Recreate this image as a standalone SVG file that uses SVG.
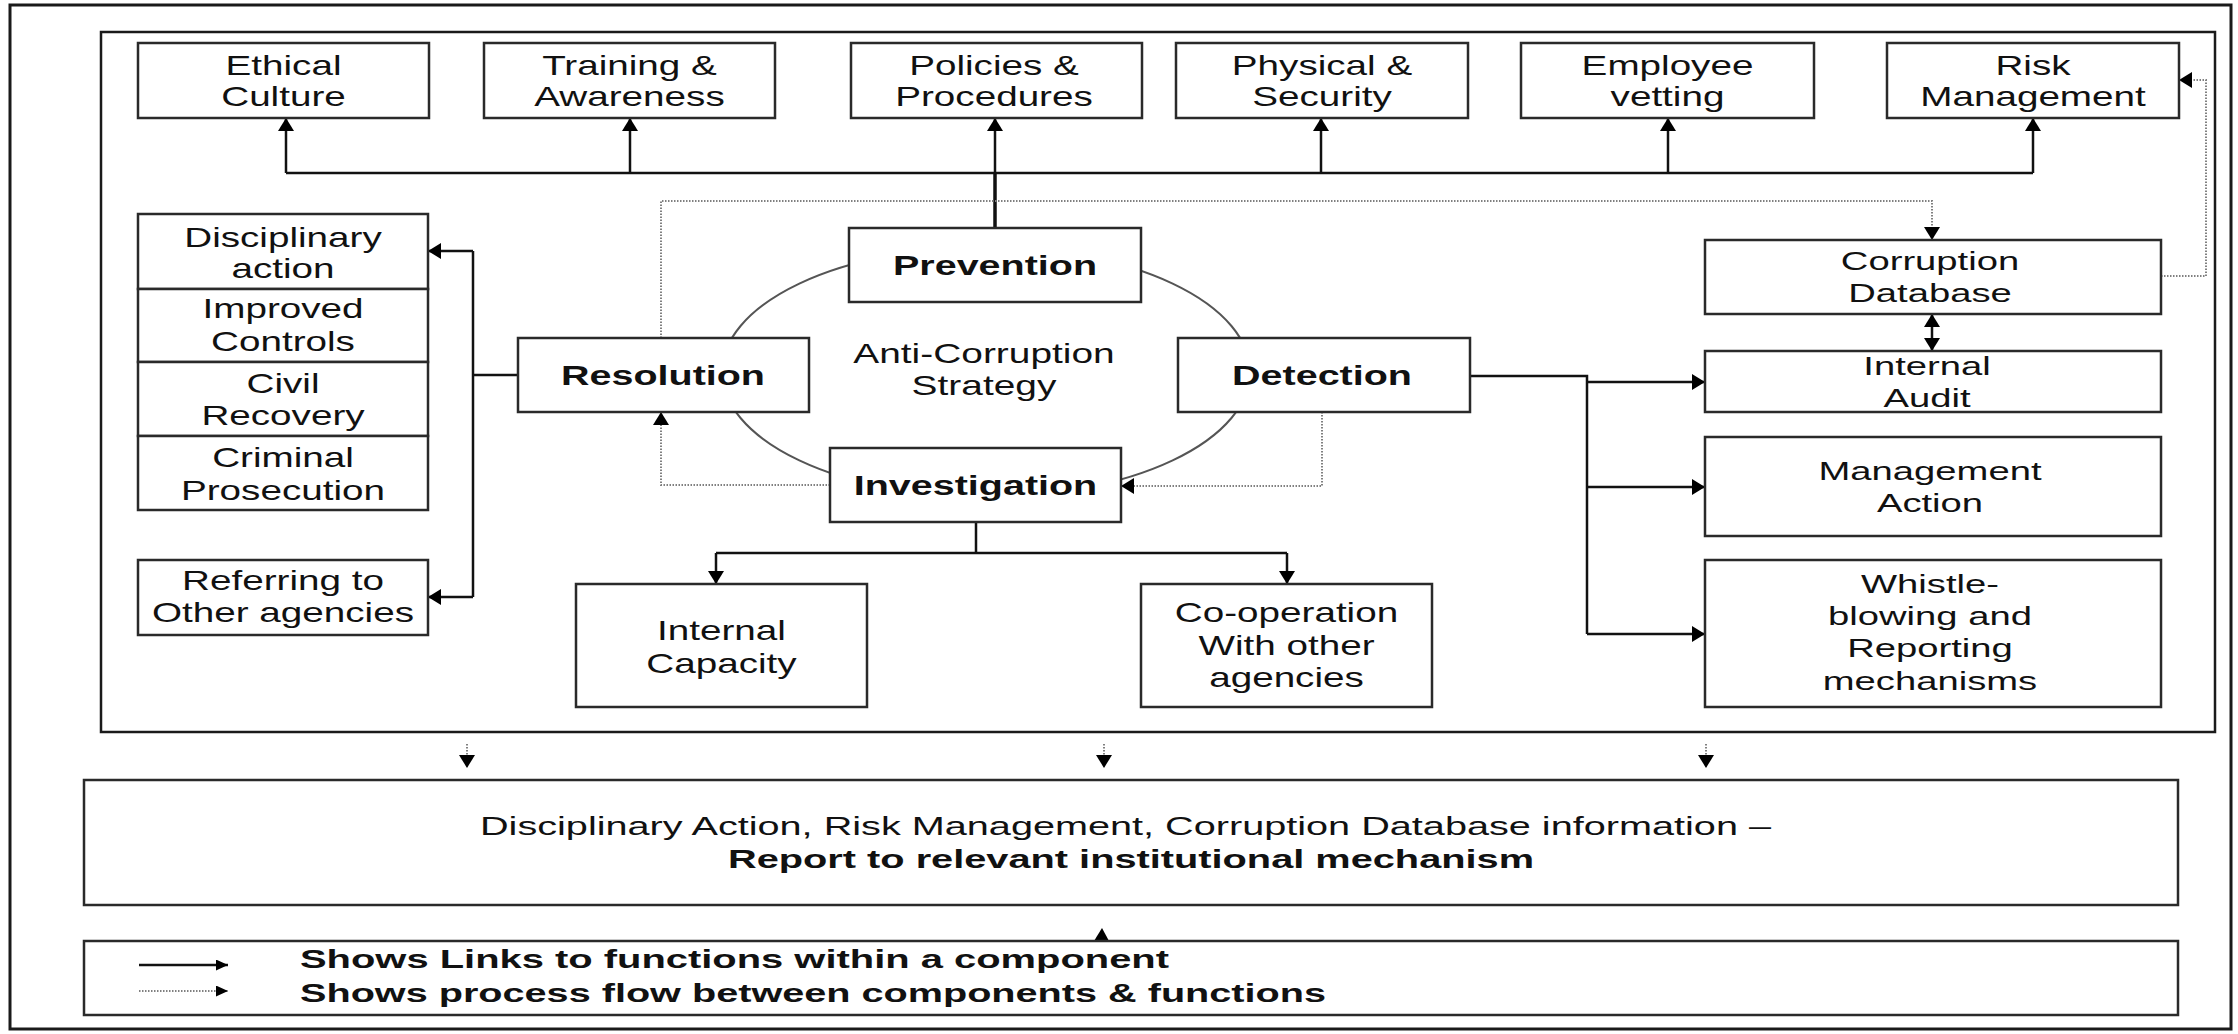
<svg xmlns="http://www.w3.org/2000/svg" width="2238" height="1034" viewBox="0 0 2238 1034">
<style>
.bg{fill:#fff}
.frame{fill:none;stroke:#1a1a1a;stroke-width:3}
.box{fill:#fff;stroke:#2a2a2a;stroke-width:2.5}
.t{font-family:"Liberation Sans",Arial,sans-serif;font-size:28px;fill:#111;text-anchor:middle}
.t.b{font-weight:bold}
.t.s{font-size:26px}
.bt{font-family:"Liberation Sans",Arial,sans-serif;font-size:25.6px;fill:#111}
.bt.b{font-weight:bold}
.ln{fill:none;stroke:#111;stroke-width:2.5}
.dt{fill:none;stroke:#808080;stroke-width:2;stroke-dasharray:1.5 1.5}
.ell{fill:none;stroke:#555;stroke-width:2}
</style>
<defs>
<marker id="ah" viewBox="0 0 13 16" refX="13" refY="8" markerWidth="13" markerHeight="16" markerUnits="userSpaceOnUse" orient="auto-start-reverse"><path d="M0,0L13,8L0,16z" fill="#000"/></marker>
<marker id="ahs" viewBox="0 0 12 11" refX="12" refY="5.5" markerWidth="12" markerHeight="11" markerUnits="userSpaceOnUse" orient="auto"><path d="M0,0L12,5.5L0,11z" fill="#000"/></marker>
</defs>
<rect class="bg" x="0" y="0" width="2238" height="1034"/>
<rect class="frame" x="10" y="5" width="2221" height="1024"/>
<rect class="frame" x="101" y="32" width="2114" height="700" style="stroke-width:2.5"/>
<ellipse class="ell" cx="986" cy="372" rx="264" ry="125"/>

<g id="connectors">
<path class="ln" d="M286,173H2033"/>
<path class="ln" d="M995,228V173" style="stroke-width:3.5"/>
<path class="ln" d="M286,173V118" marker-end="url(#ah)"/>
<path class="ln" d="M630,173V118" marker-end="url(#ah)"/>
<path class="ln" d="M995,173V118" marker-end="url(#ah)"/>
<path class="ln" d="M1321,173V118" marker-end="url(#ah)"/>
<path class="ln" d="M1668,173V118" marker-end="url(#ah)"/>
<path class="ln" d="M2033,173V118" marker-end="url(#ah)"/>
<path class="ln" d="M518,375H473M473,251V597"/>
<path class="ln" d="M473,251H428" marker-end="url(#ah)"/>
<path class="ln" d="M473,597H428" marker-end="url(#ah)"/>
<path class="ln" d="M1470,376H1587V634"/>
<path class="ln" d="M1587,382H1705" marker-end="url(#ah)"/>
<path class="ln" d="M1587,487H1705" marker-end="url(#ah)"/>
<path class="ln" d="M1587,634H1705" marker-end="url(#ah)"/>
<path class="ln" d="M976,522V553M716,553H1287"/>
<path class="ln" d="M716,553V584" marker-end="url(#ah)"/>
<path class="ln" d="M1287,553V584" marker-end="url(#ah)"/>
<path class="ln" d="M1932,314V351" marker-start="url(#ah)" marker-end="url(#ah)"/>
<path class="dt" d="M661,338V201H1932V240" marker-end="url(#ah)"/>
<path class="dt" d="M2161,276H2206V80H2179" marker-end="url(#ah)"/>
<path class="dt" d="M1322,412V486H1121" marker-end="url(#ah)"/>
<path class="dt" d="M830,485H661V412" marker-end="url(#ah)"/>
<path class="dt" d="M467,744V768" marker-end="url(#ah)"/>
<path class="dt" d="M1104,744V768" marker-end="url(#ah)"/>
<path class="dt" d="M1706,744V768" marker-end="url(#ah)"/>
<polygon points="1094,941 1109,941 1102,928" fill="#000"/>
</g>

<g id="n-ethical"><rect class="box" x="138" y="43" width="291" height="75"/><g transform="translate(283.5,0) scale(1.38,1)"><text class="t" y="75">Ethical</text><text class="t" y="106">Culture</text></g></g>
<g id="n-training"><rect class="box" x="484" y="43" width="291" height="75"/><g transform="translate(629.5,0) scale(1.38,1)"><text class="t" y="75">Training &amp;</text><text class="t" y="106">Awareness</text></g></g>
<g id="n-policies"><rect class="box" x="851" y="43" width="291" height="75"/><g transform="translate(994,0) scale(1.38,1)"><text class="t" y="75">Policies &amp;</text><text class="t" y="106">Procedures</text></g></g>
<g id="n-physical"><rect class="box" x="1176" y="43" width="292" height="75"/><g transform="translate(1322,0) scale(1.38,1)"><text class="t" y="75">Physical &amp;</text><text class="t" y="106">Security</text></g></g>
<g id="n-employee"><rect class="box" x="1521" y="43" width="293" height="75"/><g transform="translate(1667.5,0) scale(1.38,1)"><text class="t" y="75">Employee</text><text class="t" y="106">vetting</text></g></g>
<g id="n-risk"><rect class="box" x="1887" y="43" width="292" height="75"/><g transform="translate(2033,0) scale(1.38,1)"><text class="t" y="75">Risk</text><text class="t" y="106">Management</text></g></g>

<g id="n-disciplinary"><rect class="box" x="138" y="214" width="290" height="75"/><g transform="translate(283,0) scale(1.38,1)"><text class="t" y="247">Disciplinary</text><text class="t" y="278">action</text></g></g>
<g id="n-improved"><rect class="box" x="138" y="289" width="290" height="73"/><g transform="translate(283,0) scale(1.38,1)"><text class="t" y="318">Improved</text><text class="t" y="351">Controls</text></g></g>
<g id="n-civil"><rect class="box" x="138" y="362" width="290" height="74"/><g transform="translate(283,0) scale(1.38,1)"><text class="t" y="393">Civil</text><text class="t" y="425">Recovery</text></g></g>
<g id="n-criminal"><rect class="box" x="138" y="436" width="290" height="74"/><g transform="translate(283,0) scale(1.38,1)"><text class="t" y="467">Criminal</text><text class="t" y="500">Prosecution</text></g></g>
<g id="n-referring"><rect class="box" x="138" y="560" width="290" height="75"/><g transform="translate(283,0) scale(1.38,1)"><text class="t" y="590">Referring to</text><text class="t" y="622">Other  agencies</text></g></g>

<g id="n-strategy"><g transform="translate(984,0) scale(1.44,1)"><text class="t" style="font-size:27px" y="363">Anti-Corruption</text><text class="t" style="font-size:27px" y="395">Strategy</text></g></g>
<g id="n-prevention"><rect class="box" x="849" y="228" width="292" height="74"/><g transform="translate(995,0) scale(1.41,1)"><text class="t b" y="275">Prevention</text></g></g>
<g id="n-resolution"><rect class="box" x="518" y="338" width="291" height="74"/><g transform="translate(663,0) scale(1.41,1)"><text class="t b" y="385">Resolution</text></g></g>
<g id="n-detection"><rect class="box" x="1178" y="338" width="292" height="74"/><g transform="translate(1322,0) scale(1.41,1)"><text class="t b" y="385">Detection</text></g></g>
<g id="n-investigation"><rect class="box" x="830" y="448" width="291" height="74"/><g transform="translate(975.5,0) scale(1.41,1)"><text class="t b" y="495">Investigation</text></g></g>

<g id="n-internal-capacity"><rect class="box" x="576" y="584" width="291" height="123"/><g transform="translate(721.5,0) scale(1.38,1)"><text class="t" y="640">Internal</text><text class="t" y="673">Capacity</text></g></g>
<g id="n-cooperation"><rect class="box" x="1141" y="584" width="291" height="123"/><g transform="translate(1286.5,0) scale(1.38,1)"><text class="t" y="622">Co-operation</text><text class="t" y="655">With other</text><text class="t" y="687">agencies</text></g></g>

<g id="n-database"><rect class="box" x="1705" y="240" width="456" height="74"/><g transform="translate(1930,0) scale(1.47,1)"><text class="t s" y="270">Corruption</text><text class="t s" y="302">Database</text></g></g>
<g id="n-audit"><rect class="box" x="1705" y="351" width="456" height="61"/><g transform="translate(1927,0) scale(1.47,1)"><text class="t s" y="375">Internal</text><text class="t s" y="407">Audit</text></g></g>
<g id="n-management"><rect class="box" x="1705" y="437" width="456" height="99"/><g transform="translate(1930,0) scale(1.47,1)"><text class="t s" y="480">Management</text><text class="t s" y="512">Action</text></g></g>
<g id="n-whistle"><rect class="box" x="1705" y="560" width="456" height="147"/><g transform="translate(1930,0) scale(1.47,1)"><text class="t s" y="593">Whistle-</text><text class="t s" y="625">blowing and</text><text class="t s" y="657">Reporting</text><text class="t s" y="690">mechanisms</text></g></g>

<g id="n-report"><rect class="box" x="84" y="780" width="2094" height="125"/><text class="bt" x="480" y="835" textLength="1291" lengthAdjust="spacingAndGlyphs">Disciplinary Action, Risk Management,  Corruption Database information –</text><text class="bt b" x="728" y="868" textLength="806" lengthAdjust="spacingAndGlyphs">Report to relevant institutional  mechanism</text></g>

<g id="n-legend"><rect class="box" x="84" y="941" width="2094" height="74"/>
<path class="ln" d="M139,965H228" marker-end="url(#ahs)"/>
<path class="dt" d="M139,991H228" marker-end="url(#ahs)"/>
<text class="bt b" style="font-size:25px" x="300" y="968" textLength="869" lengthAdjust="spacingAndGlyphs">Shows Links to functions within a component</text>
<text class="bt b" style="font-size:25px" x="300" y="1002" textLength="1026" lengthAdjust="spacingAndGlyphs">Shows process flow between components &amp; functions</text>
</g>
</svg>
